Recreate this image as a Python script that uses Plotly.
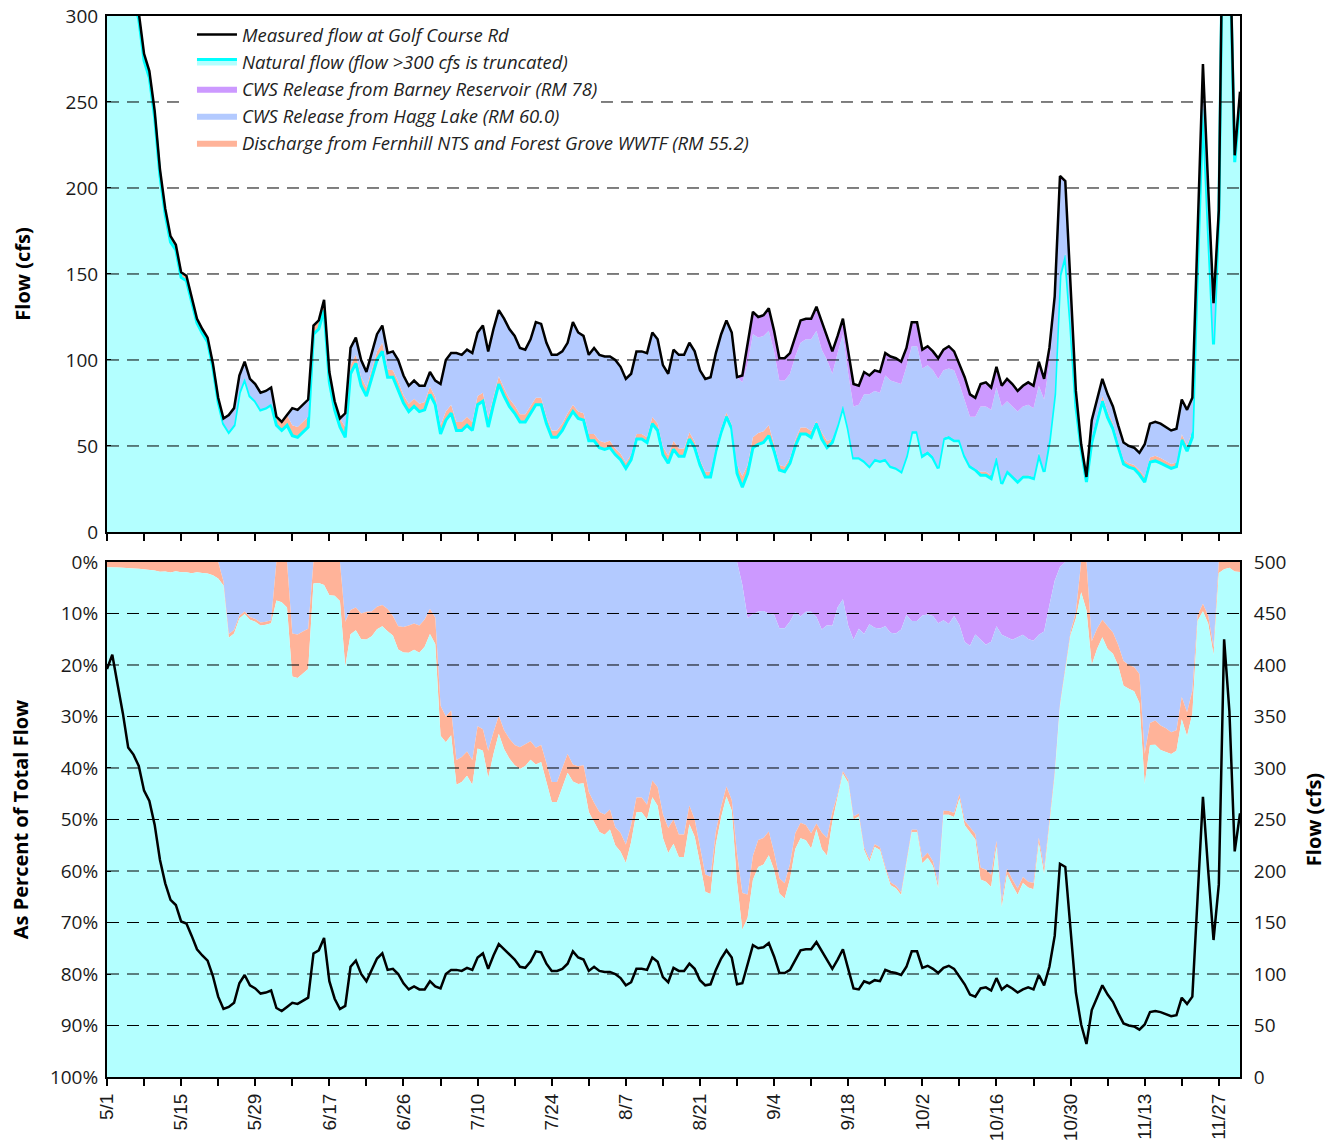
import plotly.graph_objects as go

# ---------------- data (daily, day 0 = 5/1) ----------------
day = list(range(215))

tick_days = list(range(0, 215, 7))
major_labels = ["5/1", "5/15", "5/29", "6/17", "6/26", "7/10", "7/24", "8/7",
                "8/21", "9/4", "9/18", "10/2", "10/16", "10/30", "11/13", "11/27"]

measured = [
    396, 410, 381, 353, 320, 313, 302, 278, 268, 245,
    211, 188, 172, 167, 151, 149, 137, 124, 118, 113,
    98, 78, 66, 68, 72, 91, 99, 89, 86, 81,
    82, 84, 67, 64, 68, 72, 71, 74, 77, 120,
    123, 135, 93, 76, 66, 69, 107, 113, 100, 93,
    104, 115, 120, 104, 105, 100, 91, 85, 88, 85,
    85, 93, 88, 86, 100, 104, 104, 103, 106, 104,
    116, 120, 105, 118, 129, 124, 118, 114, 107, 106,
    112, 122, 121, 110, 103, 103, 105, 110, 122, 116,
    114, 103, 107, 103, 102, 102, 100, 96, 89, 92,
    105, 105, 104, 116, 112, 97, 92, 106, 103, 103,
    110, 105, 94, 89, 90, 104, 115, 123, 116, 90,
    91, 110, 128, 125, 126, 130, 117, 101, 101, 104,
    113, 123, 124, 124, 131, 122, 114, 105, 114, 124,
    105, 86, 85, 93, 91, 94, 93, 104, 102, 101,
    99, 107, 122, 122, 106, 108, 105, 101, 106, 108,
    105, 98, 90, 80, 78, 86, 87, 84, 96, 85,
    89, 86, 82, 85, 87, 85, 99, 89, 107, 137,
    207, 204, 141, 82, 51, 32, 65, 77, 89, 80,
    73, 62, 52, 50, 49, 46, 51, 63, 64, 63,
    61, 59, 60, 77, 71, 78, 175, 272, 200, 133,
    187, 425, 355, 219, 256,
]

natural = [
    392, 406, 377, 349, 316, 309, 298, 274, 264, 241,
    207, 184.5, 168.5, 164, 148, 146, 134, 121.5, 115.5, 110.5,
    95.5, 75.5, 63, 58, 62, 81, 89, 79, 76, 71,
    72, 74, 62, 59, 62, 56, 55, 58, 61, 115,
    118, 129, 87, 71, 61, 55, 92, 98, 85, 79,
    89, 100, 105, 90, 90, 83, 75, 70, 73, 70,
    71, 80, 74, 57, 65, 69, 59, 59, 62, 59,
    74, 76, 61, 74, 86, 79, 73, 69, 64, 64,
    69, 74, 74, 63, 55, 55, 59, 65, 70, 66,
    65, 53, 53, 49, 48, 49, 45, 42, 37, 42,
    54, 54, 52, 63, 59, 45, 40, 48, 44, 44,
    54, 49, 39, 32, 32, 47, 58, 67, 60, 34,
    26, 34, 49, 51, 52, 56, 47, 36, 35, 40,
    50, 57, 57, 55, 63, 54, 49, 52, 62, 73,
    60, 43, 43, 41, 38, 42, 41, 42, 38, 37,
    35, 44, 58, 58, 44, 46, 43, 37, 54, 55,
    53, 53, 44, 38, 36, 33, 33, 31, 43, 28,
    35, 32, 29, 32, 32, 31, 45, 35, 53, 80,
    149, 161, 121, 73, 48, 29, 52, 64, 76, 66.5,
    60, 49.5, 39.5, 37.7, 36.7, 33.4, 29, 40.6, 41.3, 40,
    38.5, 37, 38, 53.5, 47, 55, 155, 246, 176, 109,
    183, 419, 351, 215, 251,
]

discharge = [
    4, 4, 4, 4, 4, 4, 4, 4, 4, 4,
    4, 3.5, 3.5, 3, 3, 3, 3, 2.5, 2.5, 2.5,
    2.5, 2.5, 0.5, 0.5, 0.5, 0.5, 0.5, 0.5, 0.5, 0.5,
    0.5, 0.5, 5, 5, 6, 6, 6, 6, 6, 5,
    5, 6, 6, 5, 5, 6, 5, 5, 5, 5,
    5, 5, 5, 4.5, 4, 4.5, 4.5, 4.5, 4.5, 4.5,
    4.5, 4.5, 4.5, 5, 5, 5, 5, 5, 5, 5,
    5, 5, 5.5, 5, 4.5, 4.5, 4.5, 4.5, 4.5, 4.5,
    4, 4, 4, 4, 4, 4, 4, 4, 4, 4,
    4, 4, 4, 4, 4, 4, 3.5, 3.5, 3.2, 3,
    3, 3, 3, 3.8, 4, 4.5, 4.5, 5, 4.5, 4.5,
    4, 3.5, 3, 3, 3, 2.5, 2.4, 2.4, 2.4, 5,
    6.5, 5, 6, 6.5, 6.5, 6, 4, 3, 3, 3,
    3.5, 3.7, 3.7, 3.7, 1.5, 3.9, 3.9, 2, 0.6, 0.6,
    0.6, 0.5, 0.5, 0.5, 0.5, 0.5, 0.5, 0.5, 0.5, 0.5,
    0.5, 0.5, 0.6, 0.6, 1, 1, 1, 0.8, 0.8, 0.8,
    0.8, 0.8, 0.8, 0.8, 0.8, 2, 2, 2, 1, 1,
    1, 1, 1, 1, 1, 1, 1, 1, 1, 1,
    1, 1, 1, 1, 3, 3, 3, 3, 3, 3.5,
    3, 2.5, 2.5, 2.3, 2.3, 2.6, 3, 2.7, 3, 3,
    2.8, 2.5, 2.4, 3.3, 3.3, 3.5, 2, 4, 3, 2,
    4, 6, 4, 4, 5,
]

hagg = [0] * 22 + [
    2.5, 9.5, 9.5, 9.5, 9.5, 9.5, 9.5, 9.5,
    9.5, 9.5, 0, 0, 0, 10, 10, 10, 10, 0,
    0, 0, 0, 0, 0, 8, 10, 10, 10, 9,
    10, 10, 10, 9.5, 11, 12.5, 11.5, 10.5, 10.5, 10.5,
    9.5, 8.5, 9.5, 24, 30, 30, 40, 39, 39, 40,
    37, 39, 38.5, 39, 38.5, 40.5, 40.5, 40.5, 38.5, 37.5,
    39, 44, 43, 43, 44, 44, 42, 41, 48, 46,
    45, 46, 50, 50, 50, 49, 51.5, 50.5, 48.8, 47,
    48, 48, 49, 49.2, 49, 47.5, 47.5, 53, 54.5, 54.5,
    52, 52.5, 52, 54, 55, 54.5, 54.6, 53.6, 53.6, 51,
    54.5, 59, 60, 55.5, 55.5, 55, 54, 49, 50, 49,
    48.5, 49.3, 51.3, 53.3, 52.5, 48.1, 47.1, 38, 41.4, 41.4,
    31.4, 29.5, 30.5, 38.5, 41.5, 39.5, 39.5, 48.5, 49.5, 49.5,
    50.5, 51.5, 49.4, 49.4, 50, 50, 50, 51.2, 39.2, 39.2,
    40.2, 32.2, 31.2, 28.2, 30.2, 38, 38, 38, 40, 44,
    40, 40, 40, 40, 41, 40, 39, 41, 44, 51,
    55, 42, 19, 8, 0, 0, 10, 10, 10, 10,
    10, 10, 10, 10, 10, 10, 19, 19.7, 19.7, 20,
    19.7, 19.5, 19.6, 20.2, 20.7, 19.5, 18, 22, 21, 22,
    0, 0, 0, 0, 0,
]

barney = [0] * 120 + [
    4, 12, 13, 12, 12, 13, 12, 13, 13, 12,
    11, 13, 12, 12, 14, 16, 14, 13, 10, 9,
    13, 13, 11, 13, 11, 12, 12, 13, 14, 14,
    13, 11, 14, 14, 11, 11, 11, 12, 12, 13,
    11, 12, 14, 13, 11, 13, 14, 13, 12, 12,
    13, 13, 12, 12, 13, 13, 14, 12, 9, 5,
    2,
] + [0] * 34

names = {
    "measured": "Measured flow at Golf Course Rd",
    "natural": "Natural flow (flow >300 cfs is truncated)",
    "barney": "CWS Release from Barney Reservoir (RM 78)",
    "hagg": "CWS Release from Hagg Lake (RM 60.0)",
    "discharge": "Discharge from Fernhill NTS and Forest Grove WWTF (RM 55.2)",
}

# ---------------- styles ----------------
C_NAT_FILL = "#B3FFFF"
C_NAT_LINE = "#00FFFF"
C_BARNEY = "#CC99FF"
C_HAGG = "#B3CAFF"
C_DISCH = "#FFB399"
FONT = "Open Sans"

fig = go.Figure()

# ---- top panel: stacked flows ----
fig.add_trace(go.Scatter(x=day, y=natural, name=names["natural"], stackgroup="top",
                         mode="lines", line=dict(color=C_NAT_LINE, width=3),
                         fillcolor=C_NAT_FILL, legendrank=2, xaxis="x", yaxis="y"))
fig.add_trace(go.Scatter(x=day, y=discharge, name=names["discharge"], stackgroup="top",
                         mode="lines", line=dict(width=0, color=C_DISCH),
                         fillcolor=C_DISCH, legendrank=5, xaxis="x", yaxis="y"))
fig.add_trace(go.Scatter(x=day, y=hagg, name=names["hagg"], stackgroup="top",
                         mode="lines", line=dict(width=0, color=C_HAGG),
                         fillcolor=C_HAGG, legendrank=4, xaxis="x", yaxis="y"))
fig.add_trace(go.Scatter(x=day, y=barney, name=names["barney"], stackgroup="top",
                         mode="lines", line=dict(width=0, color=C_BARNEY),
                         fillcolor=C_BARNEY, legendrank=3, xaxis="x", yaxis="y"))
fig.add_trace(go.Scatter(x=day, y=measured, name=names["measured"], mode="lines",
                         line=dict(color="black", width=2.5), legendrank=1,
                         xaxis="x", yaxis="y"))

# ---- bottom panel: percent of total (stacked from the top of a reversed axis) ----
for vals, col in [(barney, C_BARNEY), (hagg, C_HAGG), (discharge, C_DISCH), (natural, C_NAT_FILL)]:
    fig.add_trace(go.Scatter(x=day, y=vals, stackgroup="pct", groupnorm="percent",
                             mode="lines", line=dict(width=0, color=col), fillcolor=col,
                             showlegend=False, xaxis="x2", yaxis="y2"))
fig.add_trace(go.Scatter(x=day, y=measured, mode="lines", line=dict(color="black", width=2.5),
                         showlegend=False, xaxis="x2", yaxis="y3"))

# ---------------- layout ----------------
tick_font = dict(family=FONT, size=19, color="#1a1a1a")
title_font = dict(family=FONT, size=20, color="black", weight="bold")

minor_text = [major_labels[i // 2] if i % 2 == 0 else "" for i in range(len(tick_days))]

axis_common = dict(showline=True, linewidth=2, linecolor="black", mirror=True,
                   showgrid=False, zeroline=False, automargin=False,
                   ticklabeloverflow="allow")

fig.update_layout(
    width=1340, height=1144,
    margin=dict(l=107, r=100, t=16, b=67),
    paper_bgcolor="white", plot_bgcolor="white",
    showlegend=True,
    legend=dict(x=0.075, y=1.0, xanchor="left", yanchor="top",
                bgcolor="rgba(0,0,0,0)", itemwidth=40, tracegroupgap=0,
                font=dict(family=FONT, size=18.5, color="#222222", style="italic"),
                traceorder="normal"),
    xaxis=dict(domain=[0, 1], anchor="y", range=[0, 214], tickmode="array",
               tickvals=tick_days, ticktext=[""] * len(tick_days),
               ticks="outside", ticklen=7, tickwidth=2, tickcolor="black", **axis_common),
    yaxis=dict(domain=[0.5137, 1], anchor="x", range=[0, 300], tickmode="array",
               tickvals=[0, 50, 100, 150, 200, 250, 300], ticks="inside", ticklen=4,
               tickcolor="black", tickfont=tick_font, ticklabelstandoff=3,
               title=dict(text="Flow (cfs)", font=title_font, standoff=30), **axis_common),
    xaxis2=dict(domain=[0, 1], anchor="y2", range=[0, 214], tickmode="array",
                tickvals=tick_days, ticktext=minor_text, tickangle=-90,
                tickfont=dict(family="Liberation Sans", size=19, color="#1a1a1a"),
                ticks="outside", ticklen=7, tickwidth=2, tickcolor="black", **axis_common),
    yaxis2=dict(domain=[0, 0.4854], anchor="x2", range=[100, 0], tickmode="array",
                tickvals=list(range(0, 101, 10)),
                ticktext=[f"{v}%" for v in range(0, 101, 10)],
                ticks="inside", ticklen=4, tickcolor="black", tickfont=tick_font,
                ticklabelstandoff=3,
                title=dict(text="As Percent of Total Flow", font=title_font, standoff=16),
                **axis_common),
    yaxis3=dict(overlaying="y2", anchor="x2", side="right", range=[0, 500],
                tickmode="array", tickvals=list(range(0, 501, 50)), ticks="outside",
                ticklen=9, tickcolor="rgba(0,0,0,0)",
                tickfont=tick_font, showgrid=False, zeroline=False, showline=False,
                automargin=False, ticklabeloverflow="allow",
                title=dict(text="Flow (cfs)", font=title_font, standoff=21)),
)

# dashed grid lines drawn above the filled areas
shapes = []
dash_style = dict(color="black", width=1, dash="12px,8px")
for v in [50, 100, 150, 200]:
    shapes.append(dict(type="line", xref="x domain", yref="y", x0=0, x1=1, y0=v, y1=v,
                       line=dash_style, layer="above"))
# the 250 line is interrupted by the legend text
for a, b in [(0, 0.069), (0.436, 1)]:
    shapes.append(dict(type="line", xref="x domain", yref="y", x0=a, x1=b, y0=250, y1=250,
                       line=dash_style, layer="above"))
for v in range(10, 100, 10):
    shapes.append(dict(type="line", xref="x2 domain", yref="y2", x0=0, x1=1, y0=v, y1=v,
                       line=dash_style, layer="above"))
fig.update_layout(shapes=shapes)

# remove the default page margin so the 1340x1144 figure fills the window exactly
fig.write_html("out.html", config={"displayModeBar": False},
               post_script="document.body.style.margin='0';document.body.style.overflow='hidden';")
